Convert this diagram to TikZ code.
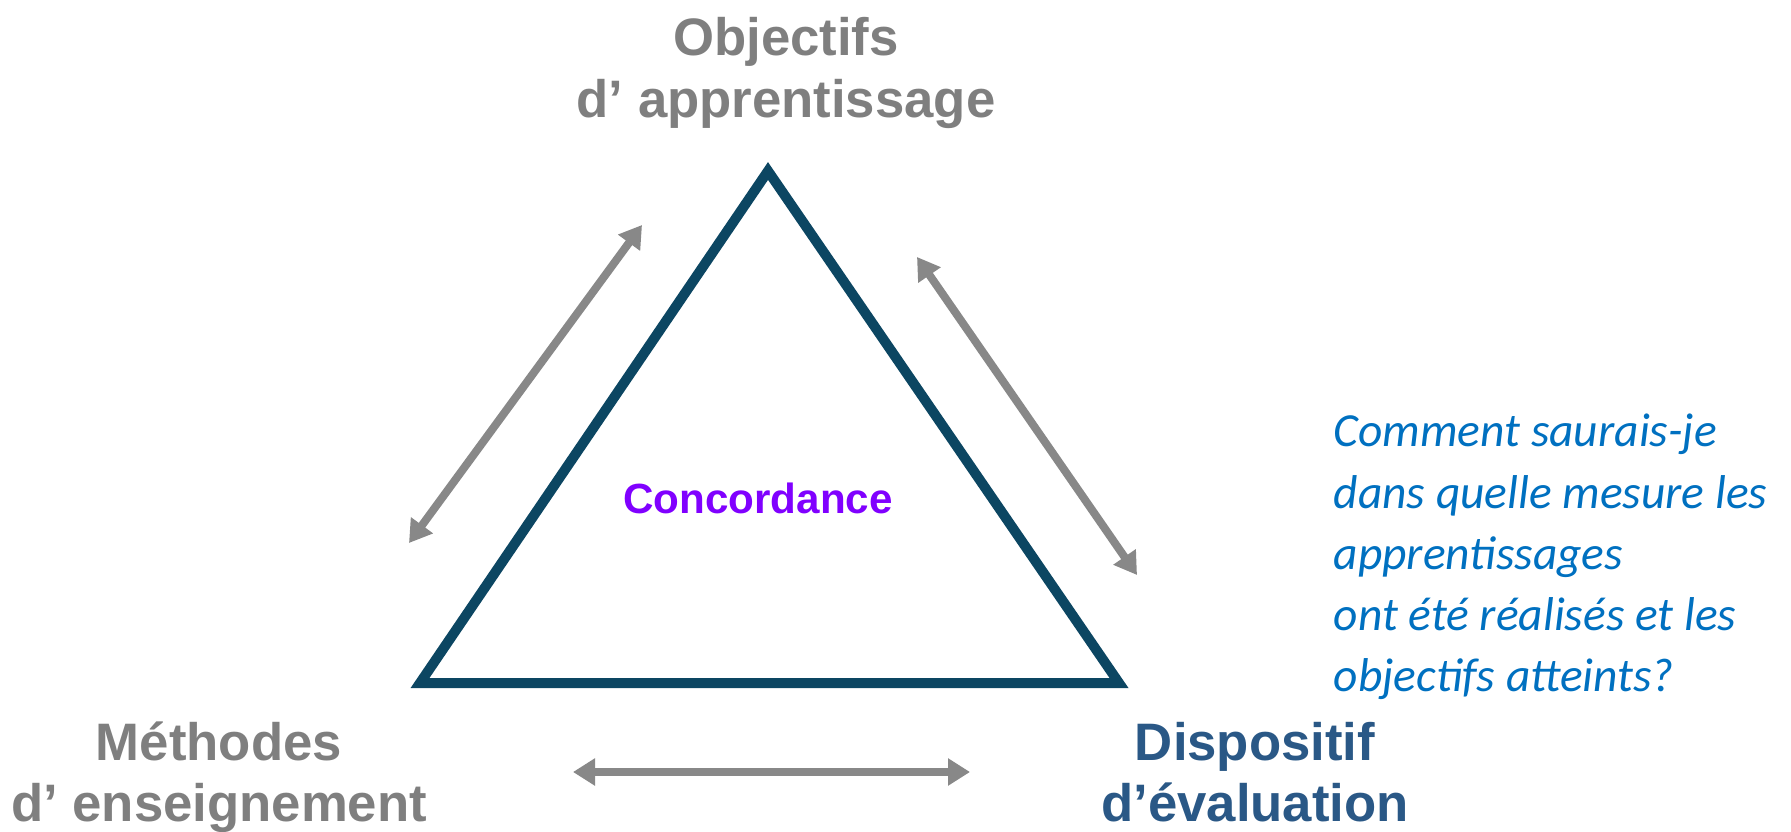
\documentclass[tikz,border=0pt]{standalone}
\usepackage{xcolor}
\usepackage{fontspec}
\setmainfont{Liberation Sans}
\newfontfamily\notefont{Carlito}
\usepackage{tikz}
\usetikzlibrary{arrows.meta}
\usetikzlibrary{calc}
\usetikzlibrary{positioning}

\definecolor{labelgray}{RGB}{127,127,127}
\definecolor{arrowgray}{RGB}{136,136,136}
\definecolor{triblue}{RGB}{12,70,98}
\definecolor{evalblue}{RGB}{42,88,134}
\definecolor{noteblue}{RGB}{0,112,192}
\definecolor{concpurple}{RGB}{128,0,255}

\begin{document}
\begin{tikzpicture}[
    pole/.style={align=center, font=\fontsize{15}{17.5}\selectfont\bfseries, text=labelgray, inner sep=0pt},
    twoway/.style={{Triangle[length=0.22cm,width=0.26cm]}-{Triangle[length=0.22cm,width=0.26cm]}, line width=0.08cm, arrowgray}
  ]
      \useasboundingbox (0,0) rectangle (17.91,8.31);

      \coordinate (apex) at (7.68,6.60);
      \coordinate (bl) at (4.20,1.48);
      \coordinate (br) at (11.19,1.48);
      \draw[triblue, line width=0.1cm, line join=miter] (apex) -- (bl) -- (br) -- cycle;

      \node[pole] (objectifs) at (7.86,7.58) {Objectifs\\d' apprentissage};
      \node[pole] (methodes) at (2.19,0.54) {Méthodes\\d' enseignement};
      \node[pole, text=evalblue] (dispositif) at (12.55,0.59) {Dispositif\\d'évaluation};
      \node[font=\fontsize{12}{14}\selectfont\bfseries, text=concpurple, inner sep=0pt] (concordance) at (7.58,3.33) {Concordance};

      \node[anchor=west, align=left, inner sep=0pt, text=noteblue, font=\notefont\itshape\fontsize{13.5}{17.4}\selectfont] (question) at (13.33,2.74)
        {Comment saurais-je\\dans quelle mesure les\\apprentissages\\ont été réalisés et les\\objectifs atteints?};

      \coordinate (la) at (4.09,2.88);
      \coordinate (lb) at (6.42,6.06);
      \coordinate (ra) at (9.17,5.74);
      \coordinate (rb) at (11.37,2.56);
      \coordinate (ba) at (5.73,0.59);
      \coordinate (bb) at (9.70,0.59);

      \draw[twoway] (la) -- (lb);
      \draw[twoway] (ra) -- (rb);
      \draw[twoway] (ba) -- (bb);

\end{tikzpicture}
\end{document}
